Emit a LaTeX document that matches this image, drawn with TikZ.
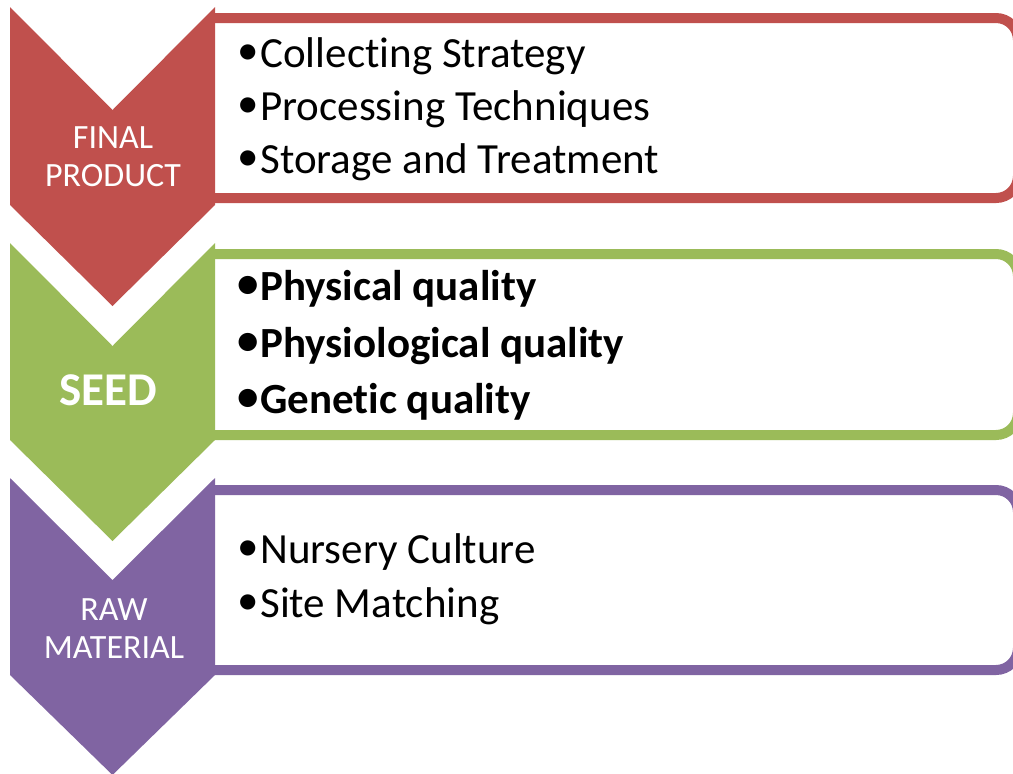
\documentclass[tikz,border=0pt]{standalone}
\usepackage{fontspec}
\setmainfont[Ligatures={NoCommon}]{Carlito}
\definecolor{cred}{HTML}{C0504D}
\definecolor{cgreen}{HTML}{9BBB59}
\definecolor{cpurple}{HTML}{8064A2}
\newcommand\bul{\raisebox{0.06em}{•}\kern0.04em}
\begin{document}
\begin{tikzpicture}[x=1pt,y=-1pt,
  itembox/.style={line width=10pt, rounded corners=22pt, fill=white},
  item/.style={anchor=base west, inner sep=0pt, font=\fontsize{43}{50}\selectfont},
  bitem/.style={anchor=base west, inner sep=0pt, font=\fontsize{43}{50}\selectfont\bfseries},
  lab/.style={anchor=base, inner sep=0pt, text=white, font=\fontsize{34}{40}\selectfont},
  blab/.style={anchor=base, inner sep=0pt, text=white, font=\fontsize{47}{54}\selectfont\bfseries}]
\useasboundingbox (0,0) rectangle (1013,774);
\clip (0,0) rectangle (1013,774);
% boxes (left part hidden behind the chevrons)
\begin{scope}
\clip (213,0) rectangle (1013,774);
\draw[itembox, draw=cred] (150,18) rectangle (1018,198);
\draw[itembox, draw=cgreen] (150,254) rectangle (1018,435);
\draw[itembox, draw=cpurple] (150,490) rectangle (1018,670);
\end{scope}
% chevrons
\fill[cred] (10,7) -- (112.5,110) -- (215,7) -- (215,205) -- (112.5,306) -- (10,205) -- cycle;
\fill[cgreen] (10,243) -- (112.5,346) -- (215,243) -- (215,440) -- (112.5,541) -- (10,440) -- cycle;
\fill[cpurple] (10,478) -- (112.5,580) -- (215,478) -- (215,675) -- (112.5,775) -- (10,675) -- cycle;
% labels
\node[lab] (fp1) at (113,148) {FINAL};
\node[lab] (fp2) at (113,186) {PRODUCT};
\node[blab] (sd) at (108,405) {SEED};
\node[lab] (rm1) at (114,620) {RAW};
\node[lab] (rm2) at (114,658) {MATERIAL};
% items
\node[item] (r1) at (237,67) {\bul Collecting Strategy};
\node[item] (r2) at (237,120) {\bul Processing Techniques};
\node[item] (r3) at (237,173) {\bul Storage and Treatment};
\node[bitem] (g1) at (237,300) {\bul Physical quality};
\node[bitem] (g2) at (237,357) {\bul Physiological quality};
\node[bitem] (g3) at (237,413) {\bul Genetic quality};
\node[item] (p1) at (237,563) {\bul Nursery Culture};
\node[item] (p2) at (237,617) {\bul Site Matching};
\end{tikzpicture}
\end{document}
